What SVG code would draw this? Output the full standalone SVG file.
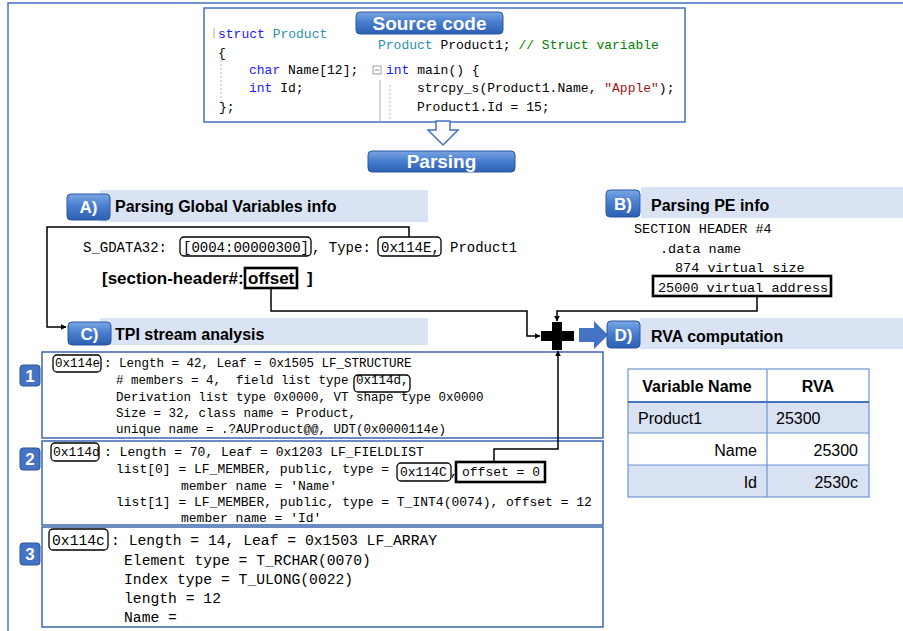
<svg xmlns="http://www.w3.org/2000/svg" width="903" height="631" viewBox="0 0 903 631">
<style>
.mono{font-family:"Liberation Mono","DejaVu Sans Mono",monospace;fill:#000;white-space:pre}
.sans{font-family:"Liberation Sans",Arial,sans-serif}
.hdr{font-family:"Liberation Sans",Arial,sans-serif;font-weight:bold;font-size:16px;fill:#000}
.pilltxt{font-family:"Liberation Sans",Arial,sans-serif;font-weight:bold;fill:#fff;text-anchor:middle}
.band{fill:#dae3f3}
.pill{fill:url(#pg);stroke:#2a579f;stroke-width:1}
.kw{fill:#1a1aff}
.ty{fill:#2b91af}
.cm{fill:#008000}
.st{fill:#a31515}
.rb{fill:none;stroke:#000;stroke-width:1.3}
.tb{fill:none;stroke:#000;stroke-width:2.6}
.conn{fill:none;stroke:#000;stroke-width:1.5}
.tpi{fill:#fff;stroke:#3d66b0;stroke-width:1.5}
.badge{fill:#4472c4;stroke:#2f5597;stroke-width:1}
.cell{font-family:"Liberation Sans",Arial,sans-serif;font-size:16px;fill:#000}
</style>
<defs>
<linearGradient id="pg" x1="0" y1="0" x2="0" y2="1">
<stop offset="0" stop-color="#7aa6e3"/>
<stop offset="0.45" stop-color="#4a7fd0"/>
<stop offset="1" stop-color="#2d5fb3"/>
</linearGradient>
<marker id="ah" viewBox="0 0 10 10" refX="9" refY="5" markerWidth="6" markerHeight="6" orient="auto" markerUnits="userSpaceOnUse">
<path d="M0,0 L10,5 L0,10 z" fill="#000"/>
</marker>
</defs>
<rect width="903" height="631" fill="#fff"/>
<path d="M903,3 H8 V631" fill="none" stroke="#4472c4" stroke-width="1.5"/>

<g id="source">
<rect x="204" y="8" width="481" height="114" fill="#fff" stroke="#4472c4" stroke-width="1.5"/>
<line x1="221" y1="60" x2="221" y2="102" stroke="#bbb" stroke-dasharray="2,2"/>
<line x1="380" y1="80" x2="380" y2="121" stroke="#aaa"/>
<line x1="390" y1="85" x2="390" y2="121" stroke="#bbb" stroke-dasharray="2,2"/>
<line x1="214" y1="28" x2="214" y2="38" stroke="#aaa"/>
<text class="mono" font-size="13" x="218" y="38"><tspan class="kw">struct</tspan> <tspan class="ty">Product</tspan></text>
<text class="mono" font-size="13" x="218" y="57">{</text>
<text class="mono" font-size="13" x="249" y="74"><tspan class="kw">char</tspan> Name[12];</text>
<text class="mono" font-size="13" x="249" y="92"><tspan class="kw">int</tspan> Id;</text>
<text class="mono" font-size="13" x="219" y="111">};</text>
<text class="mono" font-size="13" x="378" y="49"><tspan class="ty">Product</tspan> Product1; <tspan class="cm">// Struct variable</tspan></text>
<rect x="373" y="66" width="8" height="8" fill="#fff" stroke="#888" stroke-width="0.8"/>
<line x1="375" y1="70" x2="379" y2="70" stroke="#666" stroke-width="0.8"/>
<text class="mono" font-size="13" x="386" y="74"><tspan class="kw">int</tspan> main() {</text>
<text class="mono" font-size="13" x="417" y="92">strcpy_s(Product1.Name, <tspan class="st">"Apple"</tspan>);</text>
<text class="mono" font-size="13" x="417" y="111">Product1.Id = 15;</text>
<rect class="pill" x="356" y="12" width="147" height="22" rx="4"/>
<text class="pilltxt" font-size="19" x="429.5" y="30">Source code</text>
</g>

<g id="parsing">
<polygon points="436,121 450,121 450,130 458,130 443,145 428,130 436,130" fill="#fff" stroke="#4472c4" stroke-width="1.5"/>
<rect class="pill" x="368" y="151" width="147" height="21" rx="4"/>
<text class="pilltxt" font-size="19" x="441.5" y="168">Parsing</text>
</g>

<g id="headerA">
<rect class="band" x="100" y="190" width="328" height="32"/>
<rect class="pill" x="67" y="194" width="43" height="26" rx="4"/>
<text class="pilltxt" font-size="17" x="88.5" y="213">A)</text>
<text class="hdr" x="115" y="212">Parsing Global Variables info</text>
</g>

<g id="gdata">
<text class="mono" font-size="14" x="83" y="252">S_GDATA32:</text>
<rect class="rb" x="180" y="237" width="131" height="19" rx="4"/>
<text class="mono" font-size="14" x="183" y="252">[0004:00000300]</text>
<text class="mono" font-size="14" x="312" y="252">, Type:</text>
<rect class="rb" x="378" y="237" width="63" height="19" rx="4"/>
<text class="mono" font-size="14" x="381" y="252">0x114E,</text>
<text class="mono" font-size="14" x="450" y="252">Product1</text>
<text class="sans" font-weight="bold" font-size="17" x="102" y="284">[section-header#:</text>
<rect class="tb" x="245" y="268" width="52" height="20"/>
<text class="sans" font-weight="bold" font-size="17" x="248" y="284">offset</text>
<text class="sans" font-weight="bold" font-size="17" x="307" y="284">]</text>
</g>

<g id="headerB">
<rect class="band" x="641" y="187" width="262" height="31"/>
<rect class="pill" x="606" y="190" width="34" height="27" rx="4"/>
<text class="pilltxt" font-size="17" x="623" y="210">B)</text>
<text class="hdr" x="651" y="211">Parsing PE info</text>
</g>

<g id="pe">
<text class="mono" font-size="13.5" x="634" y="233">SECTION HEADER #4</text>
<text class="mono" font-size="13.5" x="660" y="253">.data name</text>
<text class="mono" font-size="13.5" x="675" y="272">874 virtual size</text>
<rect class="tb" x="653" y="276" width="178" height="20"/>
<text class="mono" font-size="13.5" x="658" y="292">25000 virtual address</text>
</g>

<g id="headerC">
<rect class="band" x="100" y="318" width="328" height="27"/>
<rect class="pill" x="68" y="322" width="43" height="23" rx="4"/>
<text class="pilltxt" font-size="17" x="89.5" y="340">C)</text>
<text class="hdr" x="115" y="340">TPI stream analysis</text>
</g>

<g id="plus">
<rect x="541" y="331" width="33" height="10" fill="#000"/>
<rect x="552" y="322" width="10" height="28" fill="#000"/>
</g>

<g id="headerD">
<polygon points="579,328 594,328 594,321 608,335 594,349 594,342 579,342" fill="#4472c4"/>
<rect class="band" x="640" y="318" width="263" height="31"/>
<rect class="pill" x="607" y="321" width="33" height="27" rx="4"/>
<text class="pilltxt" font-size="17" x="623.5" y="341">D)</text>
<text class="hdr" x="651" y="342">RVA computation</text>
</g>

<g id="tpi1">
<rect class="tpi" x="42" y="352" width="561" height="86"/>
<rect class="badge" x="20" y="365" width="20" height="21" rx="3"/>
<text class="pilltxt" font-weight="normal" font-size="17" x="30" y="382">1</text>
<rect class="rb" x="53" y="355" width="48" height="17" rx="4"/>
<text class="mono" font-size="12.5" x="55" y="367">0x114e</text>
<text class="mono" font-size="12.5" x="104" y="367">: Length = 42, Leaf = 0x1505 LF_STRUCTURE</text>
<text class="mono" font-size="12.5" x="116" y="384" xml:space="preserve"># members = 4,  field list type</text>
<rect class="rb" x="354" y="375" width="56" height="17" rx="4"/>
<text class="mono" font-size="12.5" x="356" y="388" dy="-4">0x114d,</text>
<text class="mono" font-size="12.5" x="116" y="401">Derivation list type 0x0000, VT shape type 0x0000</text>
<text class="mono" font-size="12.5" x="116" y="417">Size = 32, class name = Product,</text>
<text class="mono" font-size="12.5" x="116" y="433">unique name = .?AUProduct@@, UDT(0x0000114e)</text>
</g>

<g id="tpi2">
<rect class="tpi" x="42" y="441" width="561" height="84"/>
<rect class="badge" x="20" y="448" width="20" height="22" rx="3"/>
<text class="pilltxt" font-weight="normal" font-size="17" x="30" y="465">2</text>
<rect class="rb" x="51" y="443" width="48" height="18" rx="4"/>
<text class="mono" font-size="13" x="53" y="456">0x114d</text>
<text class="mono" font-size="13" x="104" y="456">: Length = 70, Leaf = 0x1203 LF_FIELDLIST</text>
<text class="mono" font-size="13" x="116" y="473">list[0] = LF_MEMBER, public, type =</text>
<rect class="rb" x="397" y="463" width="54" height="18" rx="4"/>
<text class="mono" font-size="13" x="400" y="476">0x114C</text>
<text class="mono" font-size="13" x="450" y="476">,</text>
<rect class="tb" x="456" y="462" width="89" height="20"/>
<text class="mono" font-size="13" x="462" y="476">offset = 0</text>
<text class="mono" font-size="13" x="181" y="490">member name = 'Name'</text>
<text class="mono" font-size="13" x="116" y="506">list[1] = LF_MEMBER, public, type = T_INT4(0074), offset = 12</text>
<text class="mono" font-size="13" x="181" y="522">member name = 'Id'</text>
</g>

<g id="tpi3">
<rect class="tpi" x="42" y="527" width="561" height="100"/>
<rect class="badge" x="20" y="543" width="20" height="22" rx="3"/>
<text class="pilltxt" font-weight="normal" font-size="17" x="30" y="560">3</text>
<rect class="rb" x="49" y="529" width="59" height="21" rx="4"/>
<text class="mono" font-size="14.7" x="52" y="545">0x114c</text>
<text class="mono" font-size="14.7" x="111" y="545">: Length = 14, Leaf = 0x1503 LF_ARRAY</text>
<text class="mono" font-size="14.7" x="124" y="565">Element type = T_RCHAR(0070)</text>
<text class="mono" font-size="14.7" x="124" y="584">Index type = T_ULONG(0022)</text>
<text class="mono" font-size="14.7" x="124" y="603">length = 12</text>
<text class="mono" font-size="14.7" x="124" y="622">Name =</text>
</g>

<g id="table">
<rect x="628" y="369" width="241" height="33" fill="#fff"/>
<rect x="628" y="402" width="241" height="31" fill="#d9e2f3"/>
<rect x="628" y="433" width="241" height="32" fill="#fff"/>
<rect x="628" y="465" width="241" height="32" fill="#d9e2f3"/>
<g stroke="#6f94d4" stroke-width="1.2" fill="none">
<rect x="628" y="369" width="241" height="128"/>
<line x1="767" y1="369" x2="767" y2="497"/>
<line x1="628" y1="433" x2="869" y2="433"/>
<line x1="628" y1="465" x2="869" y2="465"/>
</g>
<line x1="628" y1="402" x2="869" y2="402" stroke="#4472c4" stroke-width="2"/>
<text class="cell" font-weight="bold" x="697" y="392" text-anchor="middle">Variable Name</text>
<text class="cell" font-weight="bold" x="818" y="392" text-anchor="middle">RVA</text>
<text class="cell" x="638" y="424">Product1</text>
<text class="cell" x="776" y="424">25300</text>
<text class="cell" x="757" y="456" text-anchor="end">Name</text>
<text class="cell" x="858" y="456" text-anchor="end">25300</text>
<text class="cell" x="757" y="488" text-anchor="end">Id</text>
<text class="cell" x="858" y="488" text-anchor="end">2530c</text>
</g>

<g id="connectors">
<path class="conn" d="M409,237 V227 H47 V327 H66" marker-end="url(#ah)"/>
<path class="conn" d="M271,288 V311 H527 V336 H540" marker-end="url(#ah)"/>
<path class="conn" d="M757,296 V311 H557 V321" marker-end="url(#ah)"/>
<path class="conn" d="M494,462 V449 H558 V351" marker-end="url(#ah)"/>
</g>
</svg>
